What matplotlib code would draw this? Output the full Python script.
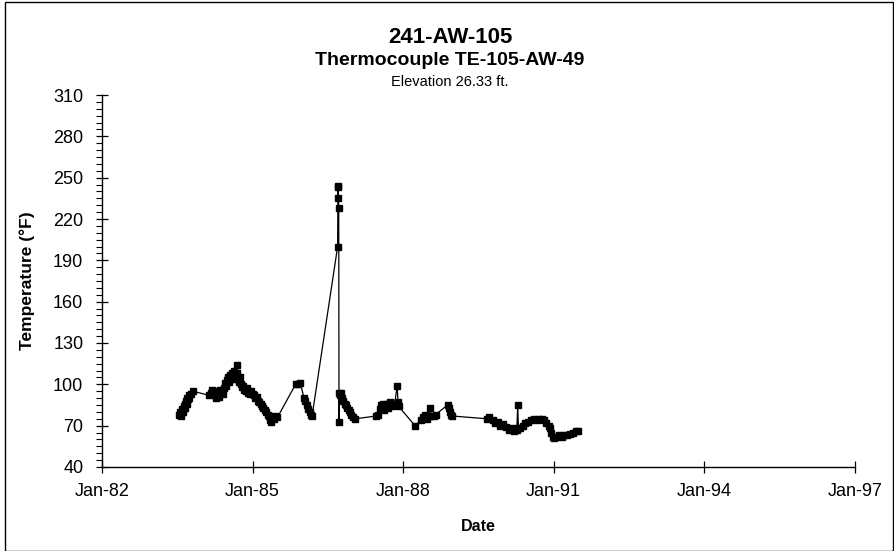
import matplotlib
matplotlib.use("Agg")
import matplotlib.pyplot as plt
from matplotlib.patches import Rectangle
import pandas as pd

plt.rcParams['font.family'] = ['Liberation Sans', 'DejaVu Sans']

# thermocouple readings (date, deg F)
dates = [
    # 1983
    '1983-07-18', '1983-07-22', '1983-07-27', '1983-08-01', '1983-08-05', '1983-08-10',
    '1983-08-15', '1983-08-20', '1983-08-25', '1983-08-30', '1983-09-04', '1983-09-09',
    '1983-09-14', '1983-09-19', '1983-09-24', '1983-09-29', '1983-10-10', '1983-10-25',
    # 1984 - mid 1985
    '1984-02-20', '1984-03-01', '1984-03-10', '1984-03-20', '1984-03-28', '1984-04-05',
    '1984-04-12', '1984-04-20', '1984-04-28', '1984-05-05', '1984-05-12', '1984-05-20',
    '1984-05-28', '1984-06-05', '1984-06-12', '1984-06-20', '1984-06-28', '1984-07-05',
    '1984-07-12', '1984-07-20', '1984-07-27', '1984-08-03', '1984-08-10', '1984-08-17',
    '1984-08-24', '1984-09-01', '1984-09-08', '1984-09-12', '1984-09-18', '1984-09-25',
    '1984-10-02', '1984-10-10', '1984-10-18', '1984-10-26', '1984-11-03', '1984-11-12',
    '1984-11-20', '1984-12-01', '1984-12-10', '1984-12-20', '1985-01-01', '1985-01-10',
    '1985-01-20', '1985-02-01', '1985-02-10', '1985-02-20', '1985-03-01', '1985-03-10',
    '1985-03-20', '1985-04-01', '1985-04-10', '1985-04-20', '1985-05-01', '1985-05-10',
    '1985-05-18', '1985-05-25', '1985-06-05', '1985-06-15', '1985-07-01',
    # late 1985 - 1986
    '1985-11-10', '1985-12-01', '1985-12-15', '1986-01-10', '1986-01-20', '1986-02-01',
    '1986-02-10', '1986-02-20', '1986-03-01', '1986-03-10',
    # spike
    '1986-09-12', '1986-09-14', '1986-09-16', '1986-09-18', '1986-09-20', '1986-09-22',
    '1986-09-24', '1986-10-01', '1986-10-08', '1986-10-15', '1986-10-22', '1986-11-01',
    '1986-11-10', '1986-11-20', '1986-12-01', '1986-12-10', '1986-12-20', '1987-01-05',
    '1987-01-20',
    # 1987 - 1988
    '1987-06-20', '1987-07-05', '1987-07-15', '1987-07-25', '1987-08-05', '1987-08-15',
    '1987-08-25', '1987-09-05', '1987-09-15', '1987-10-01', '1987-10-15', '1987-11-01',
    '1987-11-20', '1987-11-25', '1987-11-30',
    '1988-03-28', '1988-05-10', '1988-05-25', '1988-06-10', '1988-06-20', '1988-07-01',
    '1988-07-15', '1988-07-25', '1988-08-10', '1988-08-25',
    '1988-11-20', '1988-11-28', '1988-12-05', '1988-12-15', '1988-12-25',
    # 1989 - 1991
    '1989-09-01', '1989-09-20', '1989-10-15', '1989-11-01', '1989-11-20', '1989-12-10',
    '1990-01-01', '1990-01-20', '1990-02-10', '1990-03-01', '1990-03-20', '1990-04-08',
    '1990-04-15', '1990-04-20', '1990-05-01', '1990-05-20', '1990-06-10', '1990-07-01',
    '1990-07-20', '1990-08-10', '1990-09-01', '1990-09-20', '1990-10-10', '1990-10-25',
    '1990-11-10', '1990-11-25', '1990-12-05', '1990-12-15', '1990-12-25', '1991-01-05',
    '1991-01-20', '1991-02-10', '1991-03-01', '1991-03-20', '1991-04-10', '1991-05-01',
    '1991-05-20', '1991-06-10', '1991-06-25',
]
temps = [
    78, 80, 77, 79, 82, 80,
    81, 84, 86, 83, 88, 86,
    90, 89, 92, 90, 93, 95,
    92, 94, 96, 93, 95, 92,
    90, 93, 91, 94, 96, 95,
    93, 97, 101, 99, 103, 105,
    102, 107, 104, 108, 106, 110,
    107, 104, 114, 108, 104, 102,
    105, 100, 98, 99, 96, 95,
    97, 94, 93, 95, 93, 92,
    90, 91, 88, 87, 86, 84,
    83, 81, 80, 78, 77, 74,
    73, 76, 75, 77, 76,
    100, 100, 101, 90, 88, 85,
    82, 80, 78, 77,
    200, 243, 244, 235, 228, 73,
    94, 92, 94, 90, 88, 86,
    85, 83, 81, 80, 78, 76,
    75,
    77, 78, 82, 85, 86, 81,
    85, 86, 83, 87, 84, 86,
    99, 87, 84,
    70, 74, 76, 78, 75, 77,
    83, 77, 77, 78,
    85, 83, 80, 78, 77,
    75, 76, 74, 72, 73, 70,
    71, 69, 67, 68, 66, 67,
    85, 68, 68, 70, 72, 73,
    74, 75, 74, 75, 75, 74,
    72, 70, 68, 65, 62, 61,
    62, 63, 62, 63, 63, 64,
    65, 66, 66,
]

titles = ['241-AW-105', 'Thermocouple TE-105-AW-49']
subtitle = 'Elevation 26.33 ft.'
tick_years = [1982, 1985, 1988, 1991, 1994, 1997]

df = pd.DataFrame({'date': pd.to_datetime(dates), 'temp': temps})

fig = plt.figure(figsize=(8.95, 5.51), dpi=100)
ax = fig.add_axes([0.114, 0.1525, 0.841, 0.675])

ax.plot(df['date'], df['temp'], color='black', lw=0.9, marker='s', ms=5,
        mfc='black', mec='black')

ax.set_ylim(40, 310)
ax.set_yticks(range(40, 311, 30))
ax.set_yticks(range(40, 311, 5), minor=True)
ax.set_xlim(pd.Timestamp('1982-01-01'), pd.Timestamp('1997-01-01'))
xt = [pd.Timestamp(f'{y}-01-01') for y in tick_years]
ax.set_xticks(xt)
ax.set_xticklabels([t.strftime('Jan-%y') for t in xt])

for s in ['top', 'right']:
    ax.spines[s].set_visible(False)
for s in ['left', 'bottom']:
    ax.spines[s].set_linewidth(1.0)

ax.tick_params(axis='both', which='major', direction='inout', length=9, width=0.9,
               labelsize=13)
ax.tick_params(axis='y', which='major', pad=9)
ax.tick_params(axis='x', which='major', pad=7)
ax.tick_params(axis='y', which='minor', direction='out', length=4, width=0.8)

ax.set_ylabel('Temperature (°F)', fontsize=12.5, fontweight='bold', labelpad=13)
ax.set_xlabel('Date', fontsize=11.5, fontweight='bold', labelpad=14)

fig.text(0.503, 0.932, titles[0], ha='center', va='center', fontsize=16, fontweight='bold')
fig.text(0.503, 0.891, titles[1], ha='center', va='center', fontsize=14, fontweight='bold')
fig.text(0.503, 0.852, subtitle, ha='center', va='center', fontsize=10.5)

fig.patches.append(Rectangle((0.006, 0.0), 0.992, 0.996, transform=fig.transFigure,
                             fill=False, edgecolor='black', lw=1.0))

fig.savefig('out.png', dpi=100)
